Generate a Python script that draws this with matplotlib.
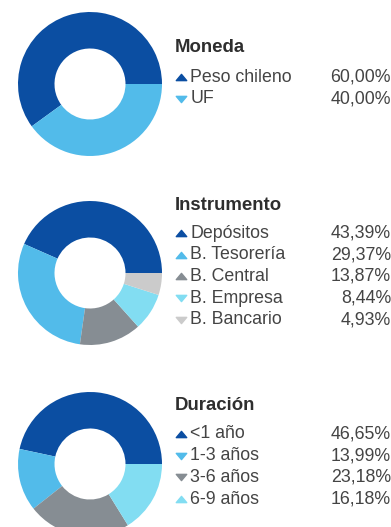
import matplotlib
matplotlib.use("Agg")
import matplotlib.pyplot as plt
from matplotlib.path import Path

plt.rcParams["font.family"] = ["Liberation Sans", "DejaVu Sans"]

# colours used across the three donuts
DARK_BLUE = "#0b4ea2"
LIGHT_BLUE = "#52bbea"
GRAY = "#868d93"
CYAN = "#82ddf2"
LIGHT_GRAY = "#cbcbcb"

moneda_labels = ["Peso chileno", "UF"]
moneda_values = [60.00, 40.00]
moneda_colors = [DARK_BLUE, LIGHT_BLUE]
moneda_markers = ["up", "down"]

instrumento_labels = ["Depósitos", "B. Tesorería", "B. Central", "B. Empresa", "B. Bancario"]
instrumento_values = [43.39, 29.37, 13.87, 8.44, 4.93]
instrumento_colors = [DARK_BLUE, LIGHT_BLUE, GRAY, CYAN, LIGHT_GRAY]
instrumento_markers = ["up", "up", "up", "down", "down"]

duracion_labels = ["<1 año", "1-3 años", "3-6 años", "6-9 años"]
duracion_values = [46.65, 13.99, 23.18, 16.18]
duracion_colors = [DARK_BLUE, LIGHT_BLUE, GRAY, CYAN]
duracion_markers = ["up", "down", "down", "up"]

W, H = 391, 527
fig = plt.figure(figsize=(W / 100, H / 100), dpi=100)

# flattened triangles for the legend bullets
TRI_UP = Path([(-1, -0.6), (1, -0.6), (0, 0.6), (-1, -0.6)],
              [Path.MOVETO, Path.LINETO, Path.LINETO, Path.CLOSEPOLY])
TRI_DOWN = Path([(-1, 0.6), (1, 0.6), (0, -0.6), (-1, 0.6)],
                [Path.MOVETO, Path.LINETO, Path.LINETO, Path.CLOSEPOLY])

# overlay in pixel coordinates for titles and legend rows
lax = fig.add_axes([0, 0, 1, 1], zorder=5)
lax.set_xlim(0, W)
lax.set_ylim(H, 0)
lax.axis("off")

TEXT_COLOR = "#444444"
R_OUT, R_IN = 72, 35.5


def donut_block(cy, title, title_y, labels, values, colors, markers, row0):
    cx = 90
    ax = fig.add_axes([(cx - R_OUT) / W, 1 - (cy + R_OUT) / H,
                       2 * R_OUT / W, 2 * R_OUT / H])
    ax.pie(values, colors=colors, startangle=0, counterclock=True, radius=1,
           wedgeprops=dict(width=1 - R_IN / R_OUT, linewidth=0))
    ax.set_xlim(-1, 1)
    ax.set_ylim(-1, 1)
    ax.set_aspect("equal")
    ax.axis("off")

    lax.text(175, title_y, title, fontsize=13.4, fontweight="bold",
             color="#2e2e2e", va="center", ha="left")
    for i, (lab, val, col, mk) in enumerate(zip(labels, values, colors, markers)):
        y = row0 + i * 21.7
        lax.plot(180.5, y, marker=TRI_UP if mk == "up" else TRI_DOWN,
                 markersize=7.5, color=col, linestyle="none")
        lax.text(190.5, y, lab, fontsize=12.8, color=TEXT_COLOR, va="center", ha="left")
        lax.text(391, y, f"{val:.2f}%".replace(".", ","), fontsize=12.8,
                 color=TEXT_COLOR, va="center", ha="right")


donut_block(84, "Moneda", 48, moneda_labels, moneda_values, moneda_colors,
            moneda_markers, 77)
donut_block(273, "Instrumento", 205, instrumento_labels, instrumento_values,
            instrumento_colors, instrumento_markers, 233)
donut_block(464, "Duración", 405, duracion_labels, duracion_values,
            duracion_colors, duracion_markers, 434)

fig.savefig("out.png", dpi=100)
